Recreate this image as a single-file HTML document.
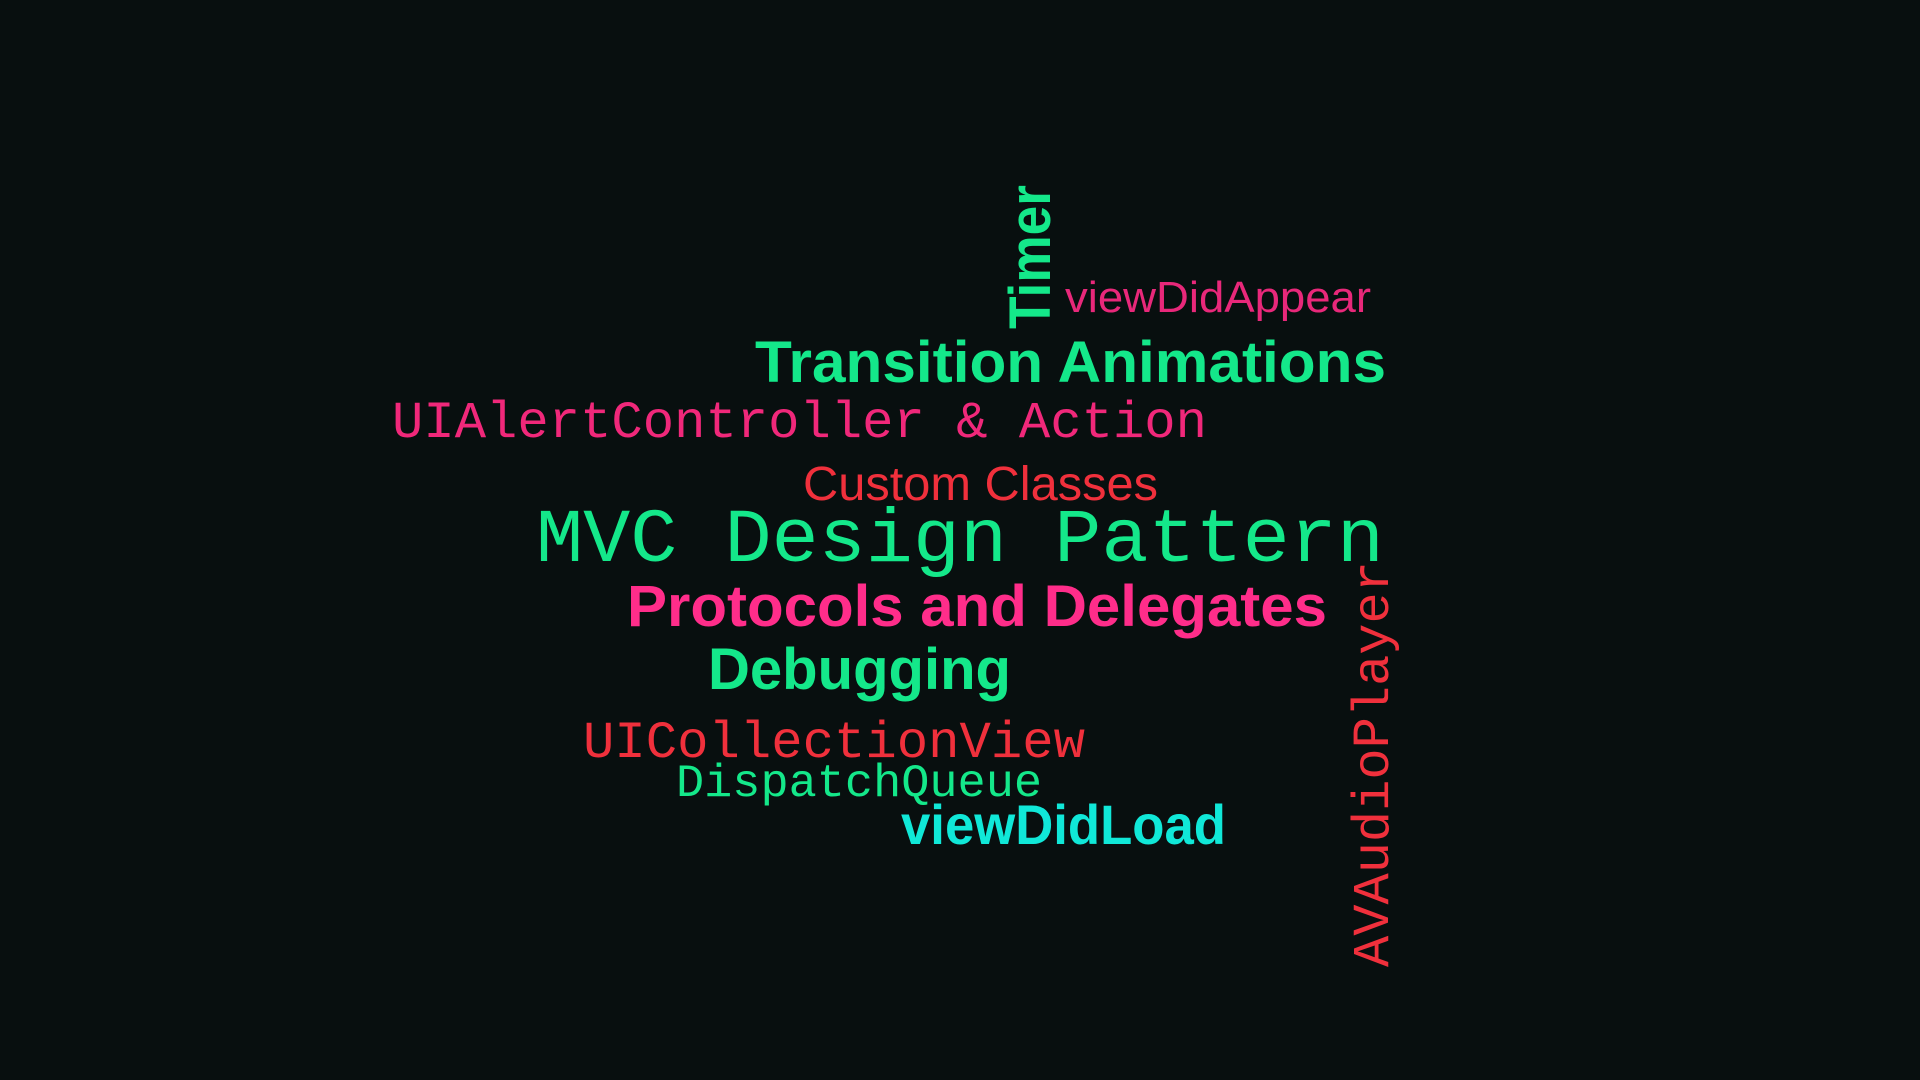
<!DOCTYPE html>
<html><head><meta charset="utf-8"><style>
html,body{margin:0;padding:0;background:#080f0f;width:1920px;height:1080px;overflow:hidden}
svg{display:block}
</style></head><body>
<svg id="cloud" width="1920" height="1080" viewBox="0 0 1920 1080" xmlns="http://www.w3.org/2000/svg">
<rect width="1920" height="1080" fill="#080f0f"/>
</svg>
<script>
const words = ["Timer","viewDidAppear","Transition Animations","UIAlertController & Action","Custom Classes","MVC Design Pattern","Protocols and Delegates","Debugging","UICollectionView","DispatchQueue","viewDidLoad","AVAudioPlayer"];
const sizes = [58,44,58,52,48,76,58,58,52,46,56,52];
const colors = ["#14e88a","#e8287a","#14e88a","#f0287a","#f0303c","#14e88a","#ff2d8a","#14e88a","#f0303c","#14e88a","#10e8d8","#f0303c"];
const fonts = ["impact","thin","impact","mono","thin","mono","impact","impact","mono","mono","impact","mono"];
const xs = [1050,1065,755,392,803,536,627,708,583,676,901,1388];
const ys = [329,312,382,437,500,561,626,689,757,796,844,967];
const widths = [144,306,631,815,355,848,700,303,502,366,325,406];
const rotated = [true,false,false,false,false,false,false,false,false,false,false,true];
const fam = {impact:'"Liberation Sans Narrow","Liberation Sans",sans-serif', thin:'"Liberation Sans",sans-serif', mono:'"Liberation Mono",monospace'};
const svg = document.getElementById('cloud');
words.forEach((w,i)=>{
  const t = document.createElementNS('http://www.w3.org/2000/svg','text');
  
  
  t.textContent = w;
  t.setAttribute('x', 0);
  t.setAttribute('y', 0);
  t.setAttribute('font-size', sizes[i]);
  t.setAttribute('fill', colors[i]);
  t.setAttribute('font-family', fam[fonts[i]]);
  if (fonts[i]==='impact') t.setAttribute('font-weight','bold');
  t.setAttribute('textLength', widths[i]);
  t.setAttribute('lengthAdjust', 'spacingAndGlyphs');
  t.setAttribute('transform', rotated[i] ? `translate(${xs[i]},${ys[i]}) rotate(-90)` : `translate(${xs[i]},${ys[i]})`);
  svg.appendChild(t);
});
</script>
</body></html>
